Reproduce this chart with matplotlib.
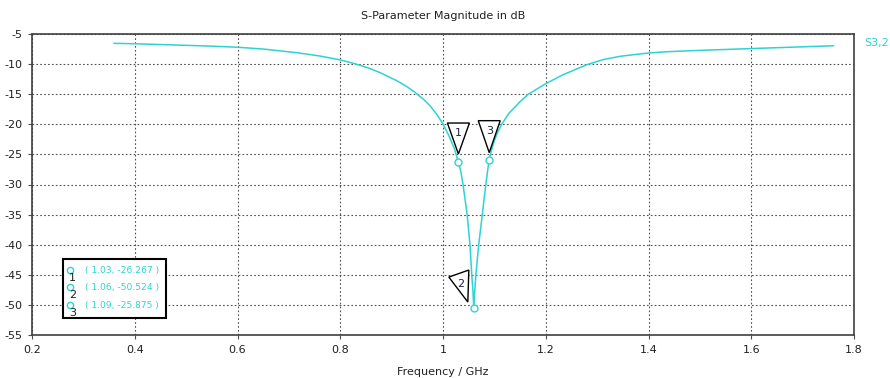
import matplotlib
matplotlib.use("Agg")
import matplotlib.pyplot as plt
import matplotlib.transforms as mtransforms
from matplotlib.patches import Polygon, Rectangle

plt.rcParams['font.family'] = ['DejaVu Sans']
plt.rcParams['axes.unicode_minus'] = False

# S3,2 magnitude (dB) versus frequency (GHz)
freq_ghz = [0.36, 0.40, 0.45, 0.50, 0.55, 0.60, 0.65, 0.715, 0.76, 0.80,
            0.829, 0.855, 0.877, 0.91, 0.93, 0.9455, 0.962, 0.975, 0.988, 1.0,
            1.012, 1.022, 1.03, 1.035, 1.039, 1.043, 1.047, 1.0525, 1.056, 1.0585,
            1.06, 1.0615, 1.064, 1.0695, 1.073, 1.0765, 1.0805, 1.084, 1.087, 1.09,
            1.094, 1.10, 1.107, 1.115, 1.128, 1.15, 1.166, 1.20, 1.234, 1.28,
            1.312, 1.345, 1.40, 1.442, 1.50, 1.54, 1.60, 1.70, 1.76]
s32_db = [-6.55, -6.62, -6.75, -6.88, -7.02, -7.2, -7.5, -8.1, -8.65, -9.3,
          -9.95, -10.65, -11.4, -12.75, -13.75, -14.7, -15.85, -16.95, -18.35, -19.95,
          -22.0, -24.0, -26.267, -28.0, -30.0, -32.5, -35.0, -40.0, -45.0, -48.0,
          -50.524, -48.0, -45.0, -40.0, -37.5, -35.0, -32.0, -29.6, -27.6, -25.875,
          -24.4, -22.7, -21.2, -19.9, -18.2, -16.25, -15.0, -13.25, -11.75, -10.1,
          -9.25, -8.7, -8.15, -7.92, -7.72, -7.6, -7.42, -7.13, -6.95]

# Markers
marker_ids = ["1", "2", "3"]
marker_freq = [1.03, 1.06, 1.09]
marker_db = [-26.267, -50.524, -25.875]

x_ticks = [0.2, 0.4, 0.6, 0.8, 1.0, 1.2, 1.4, 1.6, 1.8]
x_tick_labels = ["0.2", "0.4", "0.6", "0.8", "1", "1.2", "1.4", "1.6", "1.8"]
y_ticks = [-5, -10, -15, -20, -25, -30, -35, -40, -45, -50, -55]

CURVE = "#2ed3d3"
GRID = "#505050"
W, H = 890, 378

fig = plt.figure(figsize=(W / 100, H / 100), dpi=100)
ax = fig.add_axes([32 / W, 1 - 335 / H, 822 / W, 301 / H])

ax.plot(freq_ghz, s32_db, color=CURVE, lw=1.1, zorder=3)
ax.plot(marker_freq, marker_db, linestyle="none", marker="o", ms=5,
        mfc="white", mec=CURVE, mew=1.0, zorder=4)

ax.set_xlim(0.2, 1.8)
ax.set_ylim(-55, -5)
ax.set_xticks(x_ticks)
ax.set_xticklabels(x_tick_labels)
ax.set_yticks(y_ticks)
ax.grid(True, color=GRID, linestyle=(0, (1.5, 2)), lw=0.8)
ax.tick_params(direction="out", length=3, width=0.8, color=GRID,
               labelsize=8, labelcolor="#202020", pad=4)
for s in ax.spines.values():
    s.set_color("#404040")
    s.set_linewidth(1.2)

ax.set_title("S-Parameter Magnitude in dB", fontsize=8, color="#202020", pad=11)
ax.set_xlabel("Frequency / GHz", fontsize=8, color="#202020", labelpad=9)

# Series name to the right of the plot area
ax.text(1.012, 0.97, "S3,2", transform=ax.transAxes, color=CURVE,
        fontsize=8, ha="left", va="center")

# Marker flags: triangle outlines given in pixel offsets from each marker point
flag_shapes = {
    "1": ([(-11, 39), (11, 39), (0, 8)], (0, 29)),
    "2": ([(-25, 31), (-5, 38), (-6, 6)], (-13, 24)),
    "3": ([(-11, 39), (11, 39), (0, 7)], (0, 29)),
}
for mid, fx, fy in zip(marker_ids, marker_freq, marker_db):
    verts, lab = flag_shapes[mid]
    base = mtransforms.ScaledTranslation(fx, fy, ax.transData)
    tr = mtransforms.Affine2D().scale(1 / fig.dpi) + fig.dpi_scale_trans + base
    ax.add_patch(Polygon(verts, closed=True, facecolor="white", edgecolor="black",
                         lw=1.0, transform=tr, zorder=5, clip_on=False))
    ax.text(lab[0], lab[1], mid, transform=tr, ha="center", va="center",
            fontsize=8, color="#202040", zorder=6)

# Marker readout box
bx0, bx1 = 0.0373, 0.163
by0, by1 = 0.0555, 0.2525
ax.add_patch(Rectangle((bx0, by0), bx1 - bx0, by1 - by0, transform=ax.transAxes,
                       facecolor="white", edgecolor="black", lw=1.5, zorder=7))
row_y = [0.213, 0.157, 0.097]
for mid, fx, fy, ry in zip(marker_ids, marker_freq, marker_db, row_y):
    ax.plot([0.0465], [ry + 0.003], transform=ax.transAxes, marker="o", ms=4.5,
            mfc="white", mec=CURVE, mew=1.0, zorder=8, clip_on=False)
    ax.text(0.0495, ry - 0.025, mid, transform=ax.transAxes, fontsize=8,
            color="#202020", ha="center", va="center", zorder=8)
    ax.text(0.0645, ry, f"( {fx:.2f}, {fy:.3f} )", transform=ax.transAxes,
            fontsize=6.6, color=CURVE, ha="left", va="center", zorder=8)

fig.savefig("out.png", dpi=100)
